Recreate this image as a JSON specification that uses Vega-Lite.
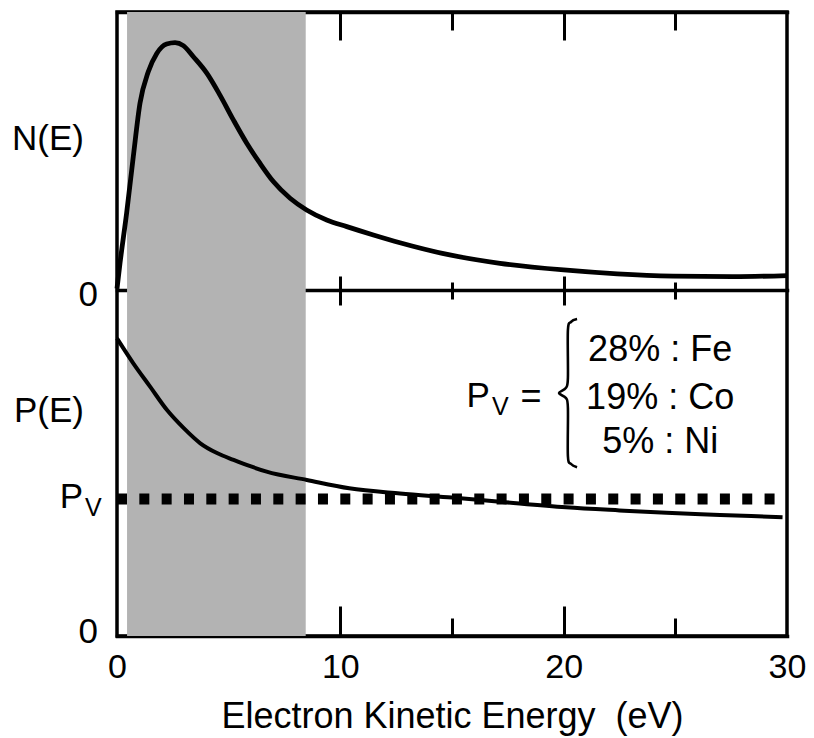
{
  "$schema": "https://vega.github.io/schema/vega-lite/v6.json",
  "width": 670,
  "height": 624,
  "autosize": {"type": "none"},
  "padding": {"left": 117, "top": 12, "right": 27, "bottom": 102},
  "background": "white",
  "config": {
    "view": {"stroke": "black", "strokeWidth": 3.5},
    "font": "Liberation Sans",
    "axis": {
      "grid": false, "domain": false, "labels": false, "ticks": true,
      "tickColor": "black", "tickWidth": 3, "tickCap": "butt", "zindex": 1,
      "domainColor": "black", "domainWidth": 3.5, "domainCap": "square",
      "labelColor": "black", "titleColor": "black",
      "labelFont": "Liberation Sans", "titleFont": "Liberation Sans", "titleFontWeight": "normal"
    },
    "text": {"font": "Liberation Sans", "color": "black"}
  },
  "resolve": {"scale": {"y": "independent"}, "axis": {"x": "independent"}},
  "layer": [
    {
      "data": {"values": [{"start": 0.45, "end": 8.45}]},
      "mark": {"type": "rect", "color": "#b3b3b3"},
      "encoding": {
        "x": {"field": "start", "type": "quantitative", "scale": {"domain": [0, 30], "nice": false, "zero": false},
              "axis": {"orient": "top", "values": [10, 20], "tickSize": -28, "domain": true, "title": null}},
        "x2": {"field": "end"}
      }
    },
    {
      "data": {"values": [
        {"E": 0, "N": 0.005}, {"E": 0.134, "N": 0.096}, {"E": 0.43, "N": 0.276}, {"E": 0.73, "N": 0.48},
        {"E": 1.03, "N": 0.672}, {"E": 1.4, "N": 0.785}, {"E": 1.78, "N": 0.851}, {"E": 2.22, "N": 0.885},
        {"E": 2.6, "N": 0.89}, {"E": 2.97, "N": 0.879}, {"E": 3.42, "N": 0.839}, {"E": 4.02, "N": 0.78},
        {"E": 4.61, "N": 0.701}, {"E": 5.21, "N": 0.612}, {"E": 5.81, "N": 0.528}, {"E": 6.4, "N": 0.456},
        {"E": 7.0, "N": 0.39}, {"E": 7.75, "N": 0.33}, {"E": 8.49, "N": 0.288}, {"E": 9.39, "N": 0.252},
        {"E": 10.29, "N": 0.228}, {"E": 11.48, "N": 0.198}, {"E": 12.67, "N": 0.17}, {"E": 14.9, "N": 0.126},
        {"E": 17.15, "N": 0.096}, {"E": 20.0, "N": 0.072}, {"E": 22.4, "N": 0.058}, {"E": 24.9, "N": 0.05},
        {"E": 27.6, "N": 0.048}, {"E": 30, "N": 0.052}
      ]},
      "mark": {"type": "line", "color": "black", "strokeWidth": 4.8, "interpolate": "monotone"},
      "encoding": {
        "x": {"field": "E", "type": "quantitative", "scale": {"domain": [0, 30], "nice": false, "zero": false},
              "axis": {"orient": "top", "values": [5, 15, 25], "tickSize": -18, "title": null}},
        "y": {"field": "N", "type": "quantitative", "scale": {"domain": [-1.2446, 1], "nice": false, "zero": false}, "axis": null}
      }
    },
    {
      "data": {"values": [
        {"E": 0, "P": 0.86}, {"E": 0.73, "P": 0.788}, {"E": 1.49, "P": 0.72}, {"E": 2.24, "P": 0.653},
        {"E": 3.0, "P": 0.6}, {"E": 3.73, "P": 0.557}, {"E": 4.5, "P": 0.528}, {"E": 5.22, "P": 0.509},
        {"E": 6.0, "P": 0.49}, {"E": 6.7, "P": 0.475}, {"E": 8.5, "P": 0.451}, {"E": 10.4, "P": 0.427},
        {"E": 12.67, "P": 0.412}, {"E": 15, "P": 0.4}, {"E": 17.15, "P": 0.388}, {"E": 20.1, "P": 0.372},
        {"E": 22.5, "P": 0.363}, {"E": 24.6, "P": 0.356}, {"E": 27, "P": 0.35}, {"E": 29.8, "P": 0.343}
      ]},
      "mark": {"type": "line", "color": "black", "strokeWidth": 4, "interpolate": "monotone"},
      "encoding": {
        "x": {"field": "E", "type": "quantitative", "scale": {"domain": [0, 30], "nice": false, "zero": false},
              "axis": {"orient": "bottom", "values": [10, 20], "tickSize": -30, "domain": true, "title": null}},
        "y": {"field": "P", "type": "quantitative", "scale": {"domain": [0, 1.8035], "nice": false, "zero": false}, "axis": null}
      }
    },
    {
      "data": {"values": [{"E": 0, "P": 0.396}, {"E": 29.45, "P": 0.396}]},
      "mark": {"type": "line", "color": "black", "strokeWidth": 11, "strokeDash": [10, 12.33], "strokeCap": "butt"},
      "encoding": {
        "x": {"field": "E", "type": "quantitative", "scale": {"domain": [0, 30], "nice": false, "zero": false},
              "axis": {"orient": "bottom", "values": [5, 15, 25], "tickSize": -18, "title": null}},
        "y": {"field": "P", "type": "quantitative", "scale": {"domain": [0, 1.8035], "nice": false, "zero": false}, "axis": null}
      }
    },
    {
      "data": {"values": [
        {"i": 1, "E": 20.6, "P": 0.916}, {"i": 2, "E": 20.33, "P": 0.908}, {"i": 3, "E": 20.19, "P": 0.884},
        {"i": 4, "E": 20.19, "P": 0.746}, {"i": 5, "E": 20.1, "P": 0.717}, {"i": 6, "E": 19.79, "P": 0.702},
        {"i": 7, "E": 20.1, "P": 0.688}, {"i": 8, "E": 20.19, "P": 0.659}, {"i": 9, "E": 20.19, "P": 0.52},
        {"i": 10, "E": 20.33, "P": 0.497}, {"i": 11, "E": 20.6, "P": 0.488}
      ]},
      "mark": {"type": "line", "color": "black", "strokeWidth": 2.6, "interpolate": "cardinal"},
      "encoding": {
        "order": {"field": "i", "type": "quantitative"},
        "x": {"field": "E", "type": "quantitative", "scale": {"domain": [0, 30], "nice": false, "zero": false},
              "axis": {"orient": "bottom", "values": [0, 10, 20, 30], "ticks": false, "labels": true,
                       "labelFontSize": 34, "labelPadding": 14, "labelFlush": false,
                       "title": "Electron Kinetic Energy\u00a0\u00a0(eV)", "titleFontSize": 36, "titlePadding": 15}},
        "y": {"field": "P", "type": "quantitative", "scale": {"domain": [0, 1.8035], "nice": false, "zero": false}, "axis": null}
      }
    },
    {
      "data": {"values": [{"E": -1.478, "N": 0.543, "t": "N(E)"}, {"E": -0.85, "N": -0.018, "t": "0"}]},
      "mark": {"type": "text", "align": "right", "baseline": "middle", "fontSize": 35},
      "encoding": {
        "x": {"field": "E", "type": "quantitative", "scale": {"domain": [0, 30], "nice": false, "zero": false},
              "axis": {"orient": "bottom", "offset": -346, "values": [10, 20], "tickSize": 15, "domain": true, "title": null}},
        "y": {"field": "N", "type": "quantitative", "scale": {"domain": [-1.2446, 1], "nice": false, "zero": false}, "axis": null},
        "text": {"field": "t"}
      }
    },
    {
      "data": {"values": [
        {"E": -1.478, "P": 0.65, "t": "P(E)"}, {"E": -0.85, "P": 0.0116, "t": "0"},
        {"E": -1.52, "P": 0.402, "t": "P"}, {"E": 16.7, "P": 0.694, "t": "P"}
      ]},
      "mark": {"type": "text", "align": "right", "baseline": "middle", "fontSize": 35},
      "encoding": {
        "x": {"field": "E", "type": "quantitative", "scale": {"domain": [0, 30], "nice": false, "zero": false},
              "axis": {"orient": "bottom", "offset": -346, "values": [10, 20], "tickSize": -14, "title": null}},
        "y": {"field": "P", "type": "quantitative", "scale": {"domain": [0, 1.8035], "nice": false, "zero": false}, "axis": null},
        "text": {"field": "t"}
      }
    },
    {
      "data": {"values": [{"E": -1.43, "P": 0.37, "t": "V"}, {"E": 16.79, "P": 0.662, "t": "V"}]},
      "mark": {"type": "text", "align": "left", "baseline": "middle", "fontSize": 25},
      "encoding": {
        "x": {"field": "E", "type": "quantitative", "scale": {"domain": [0, 30], "nice": false, "zero": false},
              "axis": {"orient": "bottom", "offset": -346, "values": [5, 15, 25], "tickSize": 9, "title": null}},
        "y": {"field": "P", "type": "quantitative", "scale": {"domain": [0, 1.8035], "nice": false, "zero": false}, "axis": null},
        "text": {"field": "t"}
      }
    },
    {
      "data": {"values": [
        {"E": 18.54, "P": 0.69, "t": "="}, {"E": 24.32, "P": 0.827, "t": "28% : Fe"},
        {"E": 24.32, "P": 0.689, "t": "19% : Co"}, {"E": 24.32, "P": 0.561, "t": "5% : Ni"}
      ]},
      "mark": {"type": "text", "align": "center", "baseline": "middle", "fontSize": 36},
      "encoding": {
        "x": {"field": "E", "type": "quantitative", "scale": {"domain": [0, 30], "nice": false, "zero": false},
              "axis": {"orient": "bottom", "offset": -346, "values": [5, 15, 25], "tickSize": -8, "title": null}},
        "y": {"field": "P", "type": "quantitative", "scale": {"domain": [0, 1.8035], "nice": false, "zero": false}, "axis": null},
        "text": {"field": "t"}
      }
    }
  ]
}
